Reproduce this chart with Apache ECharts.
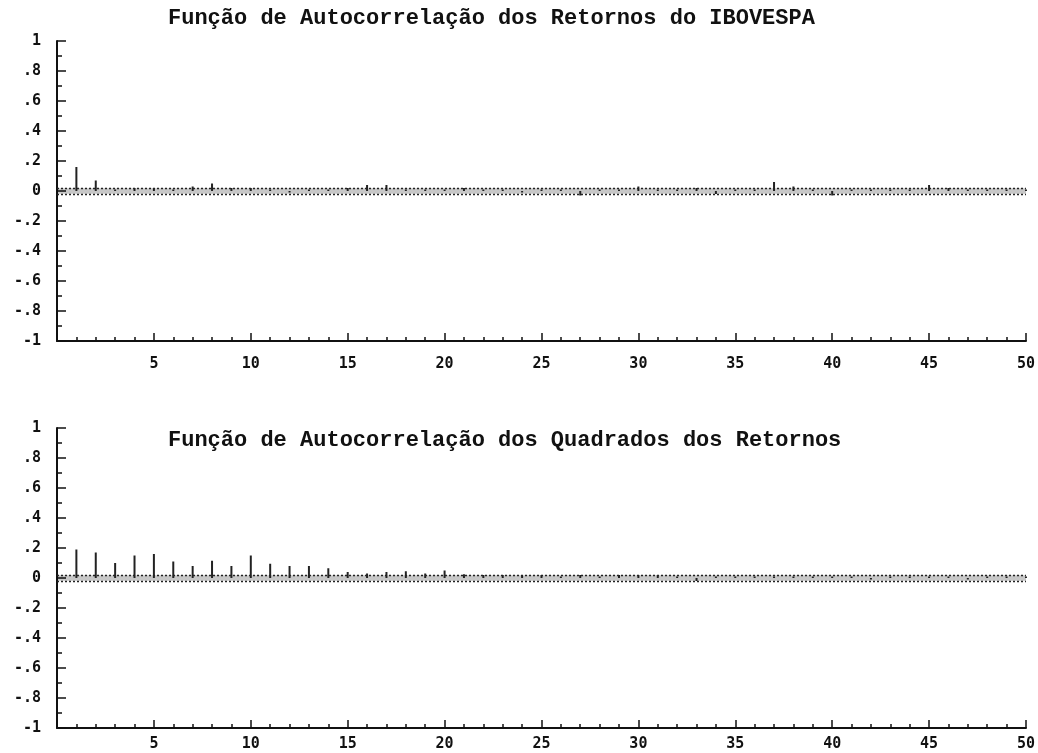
<!DOCTYPE html>
<html>
<head>
<meta charset="utf-8">
<script src="https://cdn.jsdelivr.net/npm/echarts@6/dist/echarts.min.js"></script>
<style>
html,body{margin:0;padding:0;background:#fff;}
#chart{width:1038px;height:753px;}
</style>
</head>
<body>
<div id="chart"></div>
<script>
const titles = [
  'Função de Autocorrelação dos Retornos do IBOVESPA',
  'Função de Autocorrelação dos Quadrados dos Retornos'
];
const lags = [1,2,3,4,5,6,7,8,9,10,11,12,13,14,15,16,17,18,19,20,21,22,23,24,25,
              26,27,28,29,30,31,32,33,34,35,36,37,38,39,40,41,42,43,44,45,46,47,48,49,50];
const acfReturns = [0.16,0.07,0.01,0.02,0.02,0.01,0.03,0.05,0.02,0.02,
                    0.01,-0.01,0.01,0.01,0.02,0.04,0.04,0.01,0.01,0.01,
                    0.02,0.01,0.01,-0.01,0.01,0.01,-0.03,0.01,0.01,0.03,
                    0.01,0.01,0.02,-0.02,0.01,0.01,0.06,0.03,0.01,-0.03,
                    0.01,0.01,0.01,0.01,0.04,0.02,0.01,0.01,0.01,0.01];
const acfSquares = [0.19,0.17,0.10,0.15,0.16,0.11,0.08,0.115,0.08,0.15,
                    0.095,0.08,0.08,0.065,0.04,0.03,0.04,0.045,0.03,0.05,
                    0.025,0.02,0.02,0.015,0.02,0.01,0.02,0.01,0.02,0.02,
                    0.02,0.01,-0.02,0.01,0.01,0.01,0.01,0.01,0.01,0.01,
                    0.01,-0.01,0.01,0.01,0.01,0.01,-0.01,0.01,0.01,0.01];
const confBand = [-0.018, 0.018];
const yTickValues = [-1,-0.8,-0.6,-0.4,-0.2,0,0.2,0.4,0.6,0.8,1];
const yTickLabels = ['-1','-.8','-.6','-.4','-.2','0','.2','.4','.6','.8','1'];
const xTickValues = [5,10,15,20,25,30,35,40,45,50];
const xTickLabels = ['5','10','15','20','25','30','35','40','45','50'];

const chart = echarts.init(document.getElementById('chart'), null, {renderer:'canvas'});
const labelFont = {fontFamily:'DejaVu Sans Mono', fontWeight:'bold', fontSize:15, color:'#111'};

function yFmt(v){
  for (let i=0;i<yTickValues.length;i++) if (Math.abs(yTickValues[i]-v)<1e-6) return yTickLabels[i];
  return '';
}
function xFmt(v){
  for (let i=0;i<xTickValues.length;i++) if (Math.abs(xTickValues[i]-v)<1e-6) return xTickLabels[i];
  return '';
}
function xAxis(idx, margin){
  return {
    type:'value', gridIndex:idx, min:0, max:50, interval:5,
    axisLine:{show:true, onZero:false, lineStyle:{color:'#111', width:2}},
    axisTick:{show:true, inside:true, length:8, lineStyle:{color:'#111', width:1.5}},
    minorTick:{show:true, splitNumber:5, length:4, lineStyle:{color:'#111', width:1.5}},
    splitLine:{show:false},
    axisLabel:Object.assign({margin:margin, formatter:xFmt}, labelFont)
  };
}
function yAxis(idx){
  return {
    type:'value', gridIndex:idx, min:-1, max:1, interval:0.2,
    axisLine:{show:true, onZero:false, lineStyle:{color:'#111', width:2}},
    axisTick:{show:true, inside:true, length:9, lineStyle:{color:'#111', width:1.5}},
    minorTick:{show:true, splitNumber:2, length:5, lineStyle:{color:'#111', width:1.5}},
    splitLine:{show:false},
    axisLabel:Object.assign({margin:16, formatter:yFmt}, labelFont)
  };
}
function series(idx, vals){
  return {
    type:'bar', xAxisIndex:idx, yAxisIndex:idx,
    data: lags.map((l,i)=>[l, vals[i]]),
    barWidth:2, itemStyle:{color:'#222'}, silent:true,
    markArea:{silent:true, itemStyle:{color:'rgba(0,0,0,0.22)'},
      data:[[{yAxis:confBand[0]},{yAxis:confBand[1]}]]},
    markLine:{silent:true, symbol:'none', label:{show:false},
      lineStyle:{color:'#222', type:[2,2], width:1.3},
      data:[{yAxis:confBand[0]},{yAxis:confBand[1]}]}
  };
}
const titleStyle = {fontFamily:'Liberation Mono', fontWeight:'bold', fontSize:22, color:'#111'};
chart.setOption({
  animation:false,
  backgroundColor:'#fff',
  title:[
    {text:titles[0], left:163, top:2, textStyle:titleStyle},
    {text:titles[1], left:163, top:424, textStyle:titleStyle}
  ],
  grid:[
    {left:57, right:6, top:41, height:300},
    {left:57, right:6, top:428, height:300}
  ],
  xAxis:[xAxis(0,16), xAxis(1,9)],
  yAxis:[yAxis(0), yAxis(1)],
  series:[series(0, acfReturns), series(1, acfSquares)]
});
</script>
</body>
</html>
